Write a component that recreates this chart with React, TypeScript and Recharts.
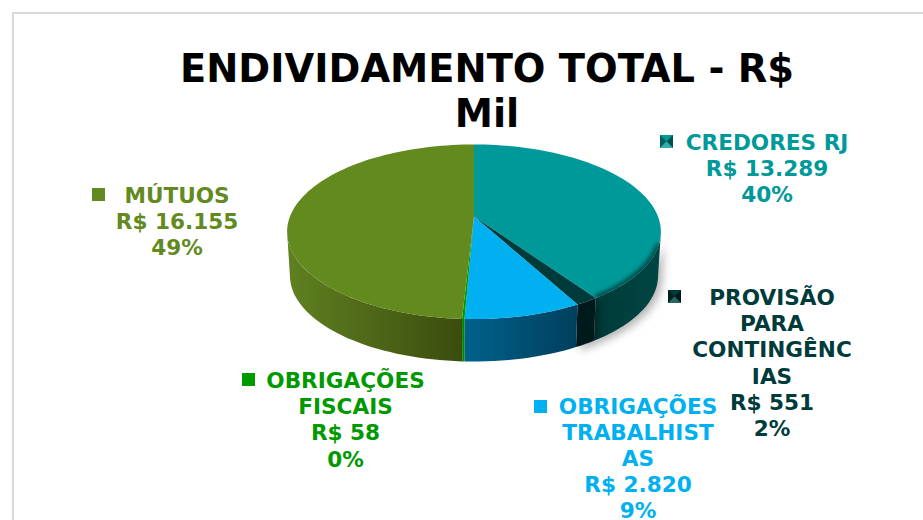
import { PieChart, Pie, Cell } from 'recharts';

const categories = ['CREDORES RJ', 'PROVISÃO PARA CONTINGÊNCIAS', 'OBRIGAÇÕES TRABALHISTAS', 'OBRIGAÇÕES FISCAIS', 'MÚTUOS'];
const values = [13289, 551, 2820, 58, 16155];
const amountLabels = ['R$ 13.289', 'R$ 551', 'R$ 2.820', 'R$ 58', 'R$ 16.155'];
const shareLabels = ['40%', '2%', '9%', '0%', '49%'];
// quebra de linha igual ao original
const nameLines = [
  ['CREDORES RJ'],
  ['PROVISÃO', 'PARA', 'CONTINGÊNC', 'IAS'],
  ['OBRIGAÇÕES', 'TRABALHIST', 'AS'],
  ['OBRIGAÇÕES', 'FISCAIS'],
  ['MÚTUOS'],
];

const topColors = ['#009999', '#003b3b', '#00b0f0', '#009900', '#638a1f'];
const wallFrom = ['#003a38', '#001a1c', '#00618a', '#009900', '#5f8120'];
const wallTo = ['#004644', '#001a1c', '#003f5e', '#007700', '#3b4c0e'];

// posição de cada rótulo: centro do texto, primeira linha, marcador
const labelSpots = [
  { x: 767, y: 142, mx: 660, my: 135 },
  { x: 772, y: 297, mx: 668, my: 290 },
  { x: 638, y: 405.5, mx: 534, my: 400 },
  { x: 345.5, y: 380, mx: 242, my: 373 },
  { x: 177, y: 195, mx: 92, my: 188 },
];

const data = categories.map((name, i) => ({ name, value: values[i] }));

const TILT = 0.175; // perspectiva do disco
const SQUASH = 0.46;
const DEPTH = 44;

function project(cx: number, cy: number, r: number, deg: number): [number, number] {
  const t = ((90 - deg) * Math.PI) / 180;
  const u = Math.sin(t);
  const v = -Math.cos(t);
  const w = 1 - TILT * v;
  return [cx + (r * u) / w, cy + (r * SQUASH * v) / w];
}

function arc(cx: number, cy: number, r: number, from: number, to: number) {
  const n = Math.max(2, Math.ceil(Math.abs(to - from) / 2));
  const pts: string[] = [];
  for (let i = 0; i <= n; i++) {
    const [x, y] = project(cx, cy, r, from + ((to - from) * i) / n);
    pts.push(`${x.toFixed(1)},${y.toFixed(1)}`);
  }
  return pts;
}

function TopFace(props: any) {
  const { cx, cy, outerRadius, startAngle, endAngle, index, fill } = props;
  const d = `M${cx},${cy}L${arc(cx, cy, outerRadius, startAngle, endAngle).join('L')}Z`;
  if (index !== 0) return <path d={d} fill={fill} />;
  // borda chanfrada da fatia principal
  const rim = arc(cx, cy, outerRadius, -18, endAngle).join('L');
  return (
    <g>
      <path d={d} fill={fill} />
      <g clipPath="url(#tealClip)">
        <path d={`M${rim}`} fill="none" stroke="#004644" strokeWidth={6} filter="url(#rimBlur)" />
      </g>
      <clipPath id="tealClip">
        <path d={d} />
      </clipPath>
    </g>
  );
}

function WallFace(props: any) {
  const { cx, cy, outerRadius, startAngle, endAngle, index } = props;
  // só a parte da frente do disco aparece (ângulos do Recharts: -10 a -170)
  const from = Math.min(startAngle, -10);
  const to = Math.max(endAngle, -170);
  if (from <= to) return null;
  const upper = arc(cx, cy, outerRadius, from, to);
  const lower = arc(cx, cy + DEPTH, outerRadius * 0.985, to, from);
  const d = `M${upper.join('L')}L${lower.join('L')}Z`;
  return (
    <path
      d={d}
      fill={`url(#wall${index})`}
      style={index < 2 ? { filter: 'drop-shadow(4px 3px 4px rgba(0,0,0,0.3))' } : undefined}
    />
  );
}

function renderLabel(props: any) {
  const i = props.index;
  const spot = labelSpots[i];
  const color = topColors[i];
  const lines = [...nameLines[i], amountLabels[i], shareLabels[i]];
  const { mx, my } = spot;
  return (
    <g key={categories[i]}>
      <rect x={mx} y={my} width={13} height={13} fill={color} />
      {i < 2 && (
        <g>
          <path d={`M${mx},${my}L${mx + 6.5},${my + 6.5}L${mx},${my + 13}Z`} fill={i === 0 ? '#005f5f' : '#001f1f'} />
          <path d={`M${mx + 13},${my}L${mx + 6.5},${my + 6.5}L${mx + 13},${my + 13}Z`} fill={i === 0 ? '#004f4f' : '#001a1a'} />
          <path d={`M${mx},${my + 13}L${mx + 6.5},${my + 6.5}L${mx + 13},${my + 13}Z`} fill={i === 0 ? '#33adad' : '#2a6464'} />
        </g>
      )}
      <text
        x={spot.x}
        y={spot.y}
        textAnchor="middle"
        fill={color}
        fontFamily="DejaVu Sans"
        fontWeight="bold"
        fontSize={21.6}
      >
        {lines.map((line, k) => (
          <tspan key={k} x={spot.x} y={spot.y + 8 + k * 26.2}>
            {line}
          </tspan>
        ))}
      </text>
    </g>
  );
}

export default function App() {
  return (
    <div style={{ position: 'fixed', left: 0, top: 0, width: 923, height: 520, overflow: 'hidden', background: '#fff' }}>
      <div
        style={{
          position: 'absolute',
          left: 12,
          top: 12,
          width: 911,
          height: 508,
          borderLeft: '2px solid #d9d9d9',
          borderTop: '2px solid #d9d9d9',
          boxSizing: 'border-box',
        }}
      />
      <div style={{ position: 'absolute', left: 0, top: 0 }}>
        <PieChart width={923} height={520} margin={{ top: 0, right: 0, bottom: 0, left: 0 }}>
          <defs>
            {categories.map((c, i) => (
              <linearGradient key={c} id={`wall${i}`} x1="0" y1="0" x2="1" y2="0">
                <stop offset="0%" stopColor={wallFrom[i]} />
                <stop offset="100%" stopColor={wallTo[i]} />
              </linearGradient>
            ))}
            <filter id="rimBlur" x="-20%" y="-20%" width="140%" height="140%">
              <feGaussianBlur stdDeviation="2" />
            </filter>
          </defs>
          <text
            x={487}
            y={82}
            textAnchor="middle"
            fontFamily="DejaVu Sans"
            fontWeight="bold"
            fontSize={38.4}
            fill="#000"
          >
            ENDIVIDAMENTO TOTAL - R$
          </text>
          <text
            x={487}
            y={127}
            textAnchor="middle"
            fontFamily="DejaVu Sans"
            fontWeight="bold"
            fontSize={38.4}
            fill="#000"
          >
            Mil
          </text>
          <Pie
            data={data}
            dataKey="value"
            cx={474}
            cy={216.5}
            outerRadius={184}
            startAngle={90}
            endAngle={-270}
            stroke="none"
            shape={WallFace}
            label={false}
            labelLine={false}
            isAnimationActive={false}
          />
          <Pie
            data={data}
            dataKey="value"
            cx={474}
            cy={216.5}
            outerRadius={184}
            startAngle={90}
            endAngle={-270}
            stroke="none"
            shape={TopFace}
            label={renderLabel}
            labelLine={false}
            isAnimationActive={false}
          >
            {categories.map((c, i) => (
              <Cell key={c} fill={topColors[i]} />
            ))}
          </Pie>
        </PieChart>
      </div>
    </div>
  );
}
